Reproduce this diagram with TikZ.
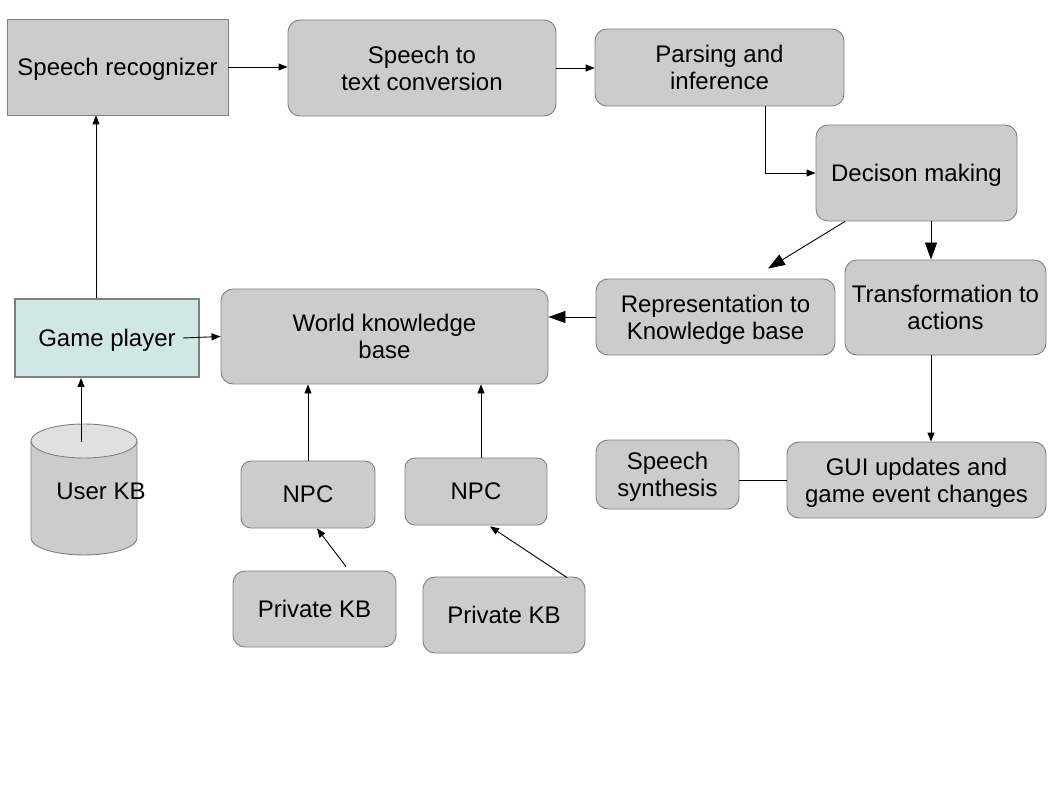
\documentclass[tikz,border=0pt]{standalone}
\usepackage{fontspec}
\setmainfont{Liberation Sans}
\usepackage{tikz}
\usetikzlibrary{arrows.meta}
\definecolor{boxgray}{HTML}{CCCCCC}
\definecolor{edgegray}{HTML}{808080}
\definecolor{playerfill}{HTML}{D0E8E4}
\definecolor{kbtop}{HTML}{E0E0E0}

\begin{document}
\begin{tikzpicture}[x=1pt,y=1pt,line width=0.9pt,
                    font=\fontsize{24}{27}\selectfont,
                    box/.style={draw=edgegray, fill=boxgray, rounded corners=12pt, align=center, inner sep=0pt, text depth=0pt},
                    flatbox/.style={box, rounded corners=0pt},
                    arr/.style={-{Triangle[length=9pt,width=7pt]}},
                    bigarr/.style={-{Triangle[length=17pt,width=12pt]}}]

  \useasboundingbox (0,0) rectangle (1058,-794);

  % top row
  \node[flatbox, minimum width=221, minimum height=96] at (117.5,-67)  (sr)     {Speech recognizer};
  \node[box, minimum width=268, minimum height=96]     at (422,-68)    (stt)    {Speech to\\text conversion};
  \node[box, minimum width=249, minimum height=77]     at (719.5,-67.5) (parse) {Parsing and\\inference};
  \node[box, minimum width=201, minimum height=96]     at (916.5,-173) (dec)    {Decison making};

  % middle row
  \node[flatbox, fill=playerfill, line width=2pt, minimum width=184, minimum height=78] at (107,-338) (game) {Game player};
  \node[box, minimum width=327, minimum height=95]     at (384.5,-336.5) (world) {World knowledge\\base};
  \node[box, minimum width=239, minimum height=76]     at (715.5,-317) (rep)    {Representation to\\Knowledge base};
  \node[box, minimum width=201, minimum height=95]     at (945.5,-307.5) (trans) {Transformation to\\actions};

  % lower rows
  \node[box, rounded corners=10pt, minimum width=134, minimum height=67] at (308,-494.5) (npcA) {NPC};
  \node[box, rounded corners=10pt, minimum width=142, minimum height=67] at (476,-491.5) (npcB) {NPC};
  \node[box, minimum width=163, minimum height=76]     at (314.5,-609) (pkbA)   {Private KB};
  \node[box, minimum width=162, minimum height=76]     at (504,-615)   (pkbB)   {Private KB};
  \node[box, minimum width=143, minimum height=69]     at (667.5,-474.5) (synth) {Speech\\synthesis};
  \node[box, minimum width=259, minimum height=76]     at (916.5,-480) (gui)    {GUI updates and\\game event changes};

  % user KB cylinder
  \fill[boxgray, draw=edgegray] (31,-441) -- (31,-538) arc (180:360:53 and 17) -- (137,-441) -- cycle;
  \draw[edgegray, fill=kbtop] (84,-441) ellipse (53 and 17);
  \node at (101,-491) (userkb) {User KB};
  \coordinate (kbstart) at (81,-442);

  % connectors
  \draw[arr] (sr.east) -- (sr.east -| stt.west);
  \draw[arr] (stt.east) -- (stt.east -| parse.west);
  \draw[arr] ([xshift=45.5]parse.south) |- (dec.west);
  \draw[bigarr] ([xshift=-71.5]dec.south) -- ([xshift=52.5,yshift=10]rep.north);
  \draw[bigarr] ([xshift=14.5]dec.south) -- ([xshift=14.5]dec.south |- trans.north);
  \draw[bigarr] (rep.west) -- (rep.west -| world.east);
  \draw[arr] ([xshift=-14.5]trans.south) -- ([xshift=-14.5]trans.south |- gui.north);
  \draw (gui.west) -- (gui.west -| synth.east);
  \draw[arr] ([xshift=-17]game.east) -- (world.west);
  \draw[arr] ([xshift=-11]game.north) -- ([xshift=-11]game.north |- sr.south);
  \draw[arr] (kbstart) -- (kbstart |- game.south);
  \draw[arr] (npcA.north) -- (npcA.north |- world.south);
  \draw[arr] ([xshift=5]npcB.north) -- ([xshift=5]npcB.north |- world.south);
  \draw[arr] ([xshift=31.5,yshift=4]pkbA.north) -- ([xshift=9]npcA.south);
  \draw[arr] ([xshift=63,yshift=-1]pkbB.north) -- ([xshift=14,yshift=-1]npcB.south);

\end{tikzpicture}
\end{document}
